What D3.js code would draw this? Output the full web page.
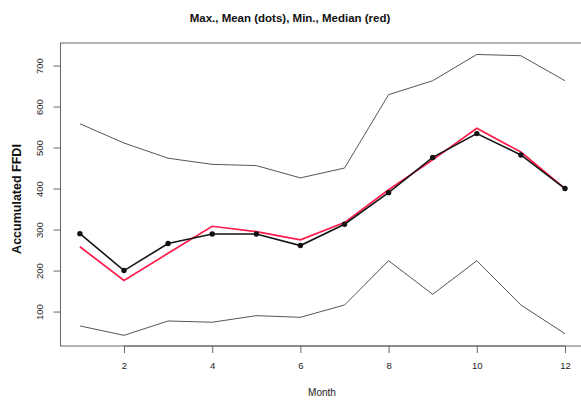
<!DOCTYPE html>
<html>
<head>
<meta charset="utf-8">
<script src="https://cdn.jsdelivr.net/npm/d3@7"></script>
<style>
  html, body { margin: 0; padding: 0; background: #fff; }
  svg { display: block; font-family: "Liberation Sans", Arial, Helvetica, sans-serif; }
</style>
</head>
<body>
<svg id="chart" width="581" height="401"></svg>
<script>
// Monthly accumulated FFDI statistics
const months = [1, 2, 3, 4, 5, 6, 7, 8, 9, 10, 11, 12];
const maxVals = [558, 511, 474, 459, 456, 426, 450, 629, 663, 727, 724, 663];
const meanVals = [290, 200, 266, 289, 289, 261, 313, 390, 476, 534, 482, 400];
const minVals = [65, 42, 77, 74, 90, 86, 116, 224, 142, 224, 116, 46];
const medianVals = [258, 176, 242, 308, 295, 275, 317, 397, 470, 547, 489, 400];
const xTicks = [2, 4, 6, 8, 10, 12];
const yTicks = [100, 200, 300, 400, 500, 600, 700];

const svg = d3.select("#chart");

const x = d3.scaleLinear().domain([0.56, 12.44]).range([60.5, 584.4]);
const y = d3.scaleLinear().domain([16, 755]).range([346, 43]);

const series = vals => months.map((m, i) => ({ m, v: vals[i] }));
const line = d3.line().x(d => x(d.m)).y(d => y(d.v));

// plot frame
svg.append("rect")
  .attr("x", x.range()[0]).attr("y", y.range()[1])
  .attr("width", x.range()[1] - x.range()[0])
  .attr("height", y.range()[0] - y.range()[1])
  .attr("fill", "none").attr("stroke", "#666").attr("stroke-width", 1);

// x axis
const xAxis = svg.append("g")
  .attr("transform", `translate(0,${y.range()[0]})`)
  .call(d3.axisBottom(x).tickValues(xTicks).tickSize(7).tickPadding(9).tickFormat(d3.format("d")));
xAxis.select(".domain").attr("d", `M${x(2)},0H${x(12)}`).attr("stroke", "#666");
xAxis.selectAll(".tick line").attr("stroke", "#666");
xAxis.selectAll(".tick text").attr("font-size", 9.5).attr("fill", "#222").attr("font-family", null);

// y axis with rotated labels
const yAxis = svg.append("g")
  .attr("transform", `translate(${x.range()[0]},0)`)
  .call(d3.axisLeft(y).tickValues(yTicks).tickSize(7).tickFormat(d3.format("d")));
yAxis.select(".domain").attr("d", `M0,${y(100)}V${y(700)}`).attr("stroke", "#666");
yAxis.selectAll(".tick line").attr("stroke", "#666");
yAxis.selectAll(".tick text")
  .attr("font-size", 9.5).attr("fill", "#222").attr("font-family", null)
  .attr("x", null).attr("dy", null)
  .attr("text-anchor", "middle")
  .attr("transform", "translate(-21,0) rotate(-90) translate(0,3.5)");

// max and min envelopes
svg.append("path").datum(series(maxVals))
  .attr("d", line).attr("fill", "none").attr("stroke", "#555").attr("stroke-width", 1);
svg.append("path").datum(series(minVals))
  .attr("d", line).attr("fill", "none").attr("stroke", "#555").attr("stroke-width", 1);

// median (red)
svg.append("path").datum(series(medianVals))
  .attr("d", line).attr("fill", "none").attr("stroke", "#ff1a4a").attr("stroke-width", 1.7);

// mean with dots
svg.append("path").datum(series(meanVals))
  .attr("d", line).attr("fill", "none").attr("stroke", "#151515").attr("stroke-width", 1.6);
svg.append("g").selectAll("circle").data(series(meanVals)).join("circle")
  .attr("cx", d => x(d.m)).attr("cy", d => y(d.v)).attr("r", 2.7).attr("fill", "#111");

// titles
svg.append("text")
  .attr("x", 290).attr("y", 22).attr("text-anchor", "middle")
  .attr("font-size", 11.5).attr("font-weight", "bold").attr("fill", "#111")
  .text("Max., Mean (dots), Min., Median (red)");
svg.append("text")
  .attr("x", 322).attr("y", 396).attr("text-anchor", "middle")
  .attr("font-size", 10).attr("fill", "#222")
  .text("Month");
svg.append("text")
  .attr("transform", "translate(21,199) rotate(-90)")
  .attr("text-anchor", "middle")
  .attr("font-size", 12.5).attr("font-weight", "bold").attr("fill", "#111")
  .text("Accumulated FFDI");
</script>
</body>
</html>
